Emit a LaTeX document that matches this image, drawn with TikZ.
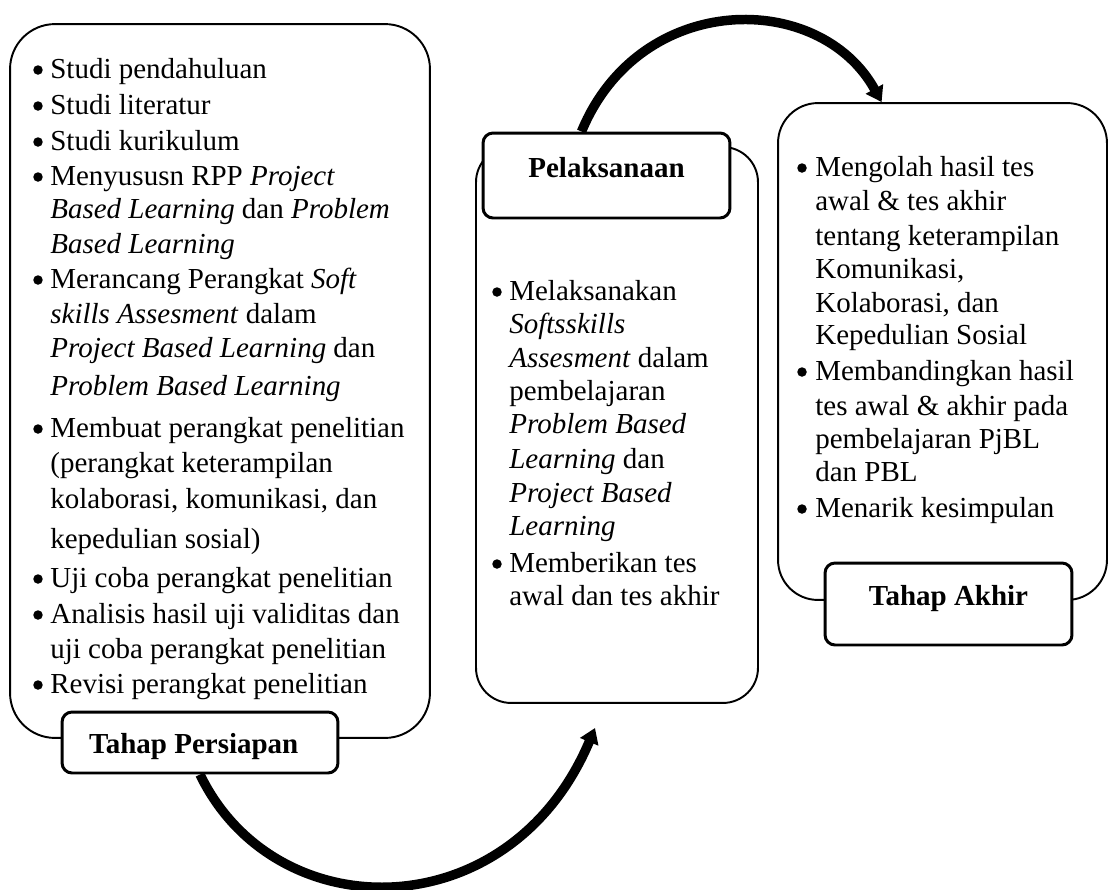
\documentclass[tikz,border=0pt]{standalone}
\usepackage{fontspec}
\setmainfont{Liberation Serif}
\usetikzlibrary{arrows.meta,calc}
\begin{document}
\begin{tikzpicture}[x=0.02cm,y=-0.02cm,
  font=\fontsize{16.5}{19.9}\selectfont,
  phase/.style={draw, line width=1.1pt, inner sep=0pt},
  tag/.style={draw, fill=white, line width=1.7pt, rounded corners=0.2cm,
    inner sep=0pt, anchor=base, font=\fontsize{16.5}{19.9}\selectfont\bfseries},
  textline/.style={anchor=base west, inner sep=0pt},
  flow/.style={line width=5.4pt, -{Triangle[width=0.38cm,length=0.3cm]}},
  bulletdot/.style={fill=black}
]
\useasboundingbox (0,0) rectangle (1110,890);

% the three phase frames
\node[phase, rounded corners=0.9cm, minimum width=8.4cm, minimum height=14.28cm] (prep) at (220,381) {};
\node[phase, rounded corners=0.7cm, minimum width=5.64cm, minimum height=11.12cm] (exec) at (617,425) {};
\node[phase, rounded corners=0.8cm, minimum width=6.58cm, minimum height=9.94cm] (final) at (942.5,351.5) {};

% phase titles
\node[tag, text height=0.82cm, text depth=0.4cm, minimum width=5.52cm] (prepTag) at (200,753) {Tahap Persiapan\hspace*{0.25cm}};
\node[tag, text height=0.88cm, text depth=0.82cm, minimum width=4.94cm] (execTag) at (606.5,177) {Pelaksanaan};
\node[tag, text height=0.84cm, text depth=0.8cm, minimum width=4.94cm] (finalTag) at (948.5,605) {Tahap Akhir};

% preparation activities
\foreach \rowy/\rowtext in {
  78/{Studi pendahuluan},
  114/{Studi literatur},
  150/{Studi kurikulum},
  185/{Menyususn RPP \textit{Project}},
  218/{\textit{Based Learning} dan \textit{Problem}},
  253/{\textit{Based Learning}},
  288/{Merancang Perangkat \textit{Soft}},
  323/{\textit{skills Assesment} dalam},
  357/{\textit{Project Based Learning} dan},
  395/{\textit{Problem Based Learning}},
  437/{Membuat perangkat penelitian},
  472/{(perangkat keterampilan},
  508/{kolaborasi, komunikasi, dan},
  548/{kepedulian sosial)},
  587/{Uji coba perangkat penelitian},
  623/{Analisis hasil uji validitas dan},
  658/{uji coba perangkat penelitian},
  693/{Revisi perangkat penelitian}}
  \node[textline] (prepLine\rowy) at (50,\rowy) {\rowtext};
\foreach \rowy in {78,114,150,185,288,437,587,623,693}
  \fill[bulletdot] (38,\rowy-8) circle[radius=0.095cm];

% implementation activities
\foreach \rowy/\rowtext in {
  300/{Melaksanakan},
  333/{\textit{Softsskills}},
  367/{\textit{Assesment} dalam},
  400/{pembelajaran},
  433/{\textit{Problem Based}},
  468/{\textit{Learning} dan},
  502/{\textit{Project Based}},
  535/{\textit{Learning}},
  572/{Memberikan tes},
  605/{awal dan tes akhir}}
  \node[textline] (execLine\rowy) at (509,\rowy) {\rowtext};
\foreach \rowy in {300,572}
  \fill[bulletdot] (497,\rowy-8) circle[radius=0.095cm];

% final-stage activities
\foreach \rowy/\rowtext in {
  176/{Mengolah hasil tes},
  210/{awal \& tes akhir},
  245/{tentang keterampilan},
  278/{Komunikasi,},
  312/{Kolaborasi, dan},
  344/{Kepedulian Sosial},
  380/{Membandingkan hasil},
  415/{tes awal \& akhir pada},
  448/{pembelajaran PjBL},
  481/{dan PBL},
  517/{Menarik kesimpulan}}
  \node[textline] (finalLine\rowy) at (815,\rowy) {\rowtext};
\foreach \rowy in {176,380,517}
  \fill[bulletdot] (802,\rowy-8) circle[radius=0.095cm];

% flow between the phases
\coordinate (execIn) at (595,728);
\draw[flow] (prepTag.south) .. controls (275,930) and (510,930) .. (execIn);
\coordinate (execOut) at ($(execTag.north west)!0.4!(execTag.north east)$);
\coordinate (finalIn) at ($(final.north west)!0.316!(final.north east)$);
\draw[flow] (execOut) .. controls (640,-10) and (820,-10) .. (finalIn);
\end{tikzpicture}
\end{document}
